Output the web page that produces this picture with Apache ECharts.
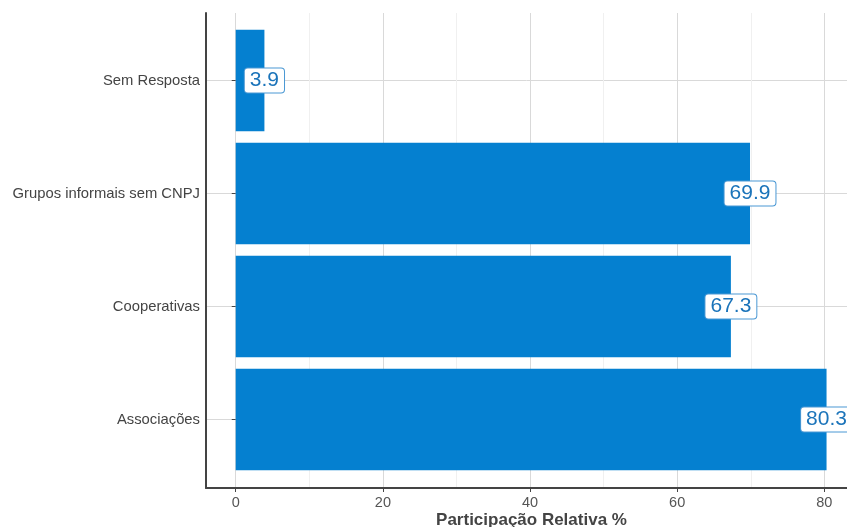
<!DOCTYPE html>
<html>
<head>
<meta charset="utf-8">
<script src="https://cdn.jsdelivr.net/npm/echarts@6/dist/echarts.min.js"></script>
<style>
  html, body { margin: 0; padding: 0; background: #fff; }
  #chart { width: 847px; height: 527px; }
</style>
</head>
<body>
<div id="chart"></div>
<script>
  // categorias de baixo para cima
  var categories = ["Associações", "Cooperativas", "Grupos informais sem CNPJ", "Sem Resposta"];
  var values = [80.3, 67.3, 69.9, 3.9];
  var majorTicks = [0, 20, 40, 60, 80];
  var minorTicks = [10, 30, 50, 70];
  var xMin = -4.04;
  var xMax = 83.08;

  var font = "Liberation Sans, Arial, sans-serif";
  var barColor = "#0580d0";

  var labelData = values.map(function (v, i) {
    return [v, categories[i]];
  });

  var chart = echarts.init(document.getElementById("chart"));
  var option = {
    animation: false,
    textStyle: { fontFamily: font },
    grid: [
      // grade dos dados (faixas das categorias)
      { left: 206, right: 0, top: 24, bottom: 51, containLabel: false, outerBoundsMode: "none" },
      // grade do painel (eixos e linhas de grade)
      { left: 206, right: 0, top: 13, bottom: 39, containLabel: false, outerBoundsMode: "none" }
    ],
    xAxis: [
      {
        gridIndex: 0, type: "value", min: xMin, max: xMax, show: false
      },
      {
        gridIndex: 1, type: "value", min: xMin, max: xMax, position: "bottom",
        axisLine: { show: true, onZero: false, lineStyle: { color: "#444", width: 2 } },
        axisTick: { show: true, length: 4, customValues: majorTicks, lineStyle: { color: "#444" } },
        axisLabel: { customValues: majorTicks, color: "#555", fontSize: 14.5, margin: 7, fontFamily: font },
        splitLine: { show: true, lineStyle: { color: "#d9d9d9", width: 1 } },
        name: "Participação Relativa %",
        nameLocation: "middle",
        nameGap: 24,
        nameMoveOverlap: false,
        nameTextStyle: {
          fontSize: 17, fontWeight: "bold", color: "#444", fontFamily: font,
          verticalAlign: "top", padding: [0, 0, 0, 10]
        }
      },
      {
        gridIndex: 1, type: "value", min: xMin, max: xMax, position: "bottom",
        axisLine: { show: false },
        axisTick: { show: false, customValues: minorTicks },
        axisLabel: { show: false, customValues: minorTicks },
        splitLine: { show: true, lineStyle: { color: "#f0f0f0", width: 1 } }
      }
    ],
    yAxis: [
      {
        gridIndex: 0, type: "category", data: categories,
        axisLine: { show: false },
        axisTick: { show: true, alignWithLabel: true, length: 4, lineStyle: { color: "#444" } },
        axisLabel: { color: "#444", fontSize: 14.8, margin: 6, fontFamily: font },
        splitLine: { show: true, alignWithLabel: true, lineStyle: { color: "#d9d9d9", width: 1 } }
      },
      {
        gridIndex: 1, type: "value", min: 0, max: 1,
        axisLine: { show: true, onZero: false, lineStyle: { color: "#444", width: 2 } },
        axisTick: { show: false },
        axisLabel: { show: false },
        splitLine: { show: false }
      }
    ],
    series: [
      {
        type: "bar",
        xAxisIndex: 0,
        yAxisIndex: 0,
        data: values,
        barWidth: "90%",
        itemStyle: { color: barColor },
        z: 2
      },
      {
        type: "scatter",
        xAxisIndex: 0,
        yAxisIndex: 0,
        data: labelData,
        symbolSize: 0,
        z: 5,
        itemStyle: { opacity: 1 },
        emphasis: { disabled: true },
        label: {
          show: true,
          position: "inside",
          formatter: function (p) { return p.value[0].toFixed(1); },
          fontSize: 21,
          fontFamily: font,
          color: "#1b74ba",
          backgroundColor: "#fff",
          borderColor: "#4a98d4",
          borderWidth: 1,
          borderRadius: 3,
          padding: [2, 5, 1, 5]
        }
      }
    ]
  };
  chart.setOption(option);
</script>
</body>
</html>
